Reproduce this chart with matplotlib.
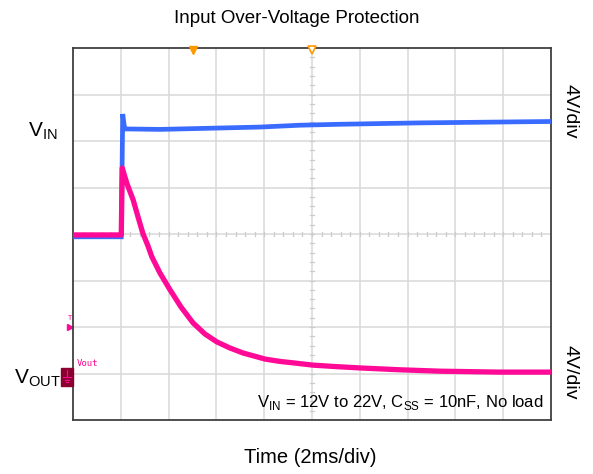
"""Oscilloscope capture: input over-voltage protection (VIN and VOUT)."""
import matplotlib.pyplot as plt
from matplotlib.patches import Rectangle

plt.rcParams["font.family"] = ["Liberation Sans", "DejaVu Sans"]

# traces, in divisions (x: 2ms/div, y: 4V/div)
vin_x = [0.0, 1.01, 1.04, 1.07, 1.09, 1.82, 3.08, 3.91, 4.75, 5.58, 7.26,
         10.0]
vin_y = [3.94, 3.94, 6.58, 6.34, 6.26, 6.25, 6.28, 6.30, 6.34, 6.36, 6.39,
         6.42]

vout_x = [0.0, 1.01, 1.03, 1.13, 1.26, 1.36, 1.46, 1.57, 1.65, 1.82, 2.03,
          2.26, 2.51, 2.76, 3.01, 3.28, 3.56, 3.81, 4.02, 4.33, 4.60, 5.02,
          5.48, 6.00, 6.84, 7.68, 8.93, 10.0]
vout_y = [3.98, 3.98, 5.42, 5.08, 4.73, 4.37, 4.02, 3.74, 3.51, 3.16, 2.80,
          2.43, 2.09, 1.85, 1.68, 1.55, 1.44, 1.37, 1.31, 1.26, 1.23, 1.18,
          1.15, 1.12, 1.08, 1.05, 1.03, 1.03]

n_xdiv = 10
n_ydiv = 8
trigger_x = [2.52, 5.0]

blue = "#3a6bff"
pink = "#ff0a96"

fig = plt.figure(figsize=(5.93, 4.74), dpi=100)
ax = fig.add_axes([0.1231, 0.1139, 0.806, 0.7848])
ax.set_xlim(0, n_xdiv)
ax.set_ylim(0, n_ydiv)

# graticule
for i in range(1, n_xdiv):
    ax.axvline(i, color="#d9d9d9", lw=1.1, zorder=0)
for j in range(1, n_ydiv):
    ax.axhline(j, color="#d9d9d9", lw=1.1, zorder=0)
for k in range(1, n_xdiv * 5):
    ax.plot([k / 5, k / 5], [n_ydiv / 2 - 0.05, n_ydiv / 2 + 0.05],
            color="#cccccc", lw=0.9, zorder=0)
for k in range(1, n_ydiv * 5):
    ax.plot([n_xdiv / 2 - 0.05, n_xdiv / 2 + 0.05], [k / 5, k / 5],
            color="#cccccc", lw=0.9, zorder=0)

ax.plot(vin_x, vin_y, color=blue, lw=3.4, solid_joinstyle="miter", zorder=3)
ax.plot(vout_x, vout_y, color=pink, lw=3.8, zorder=4)

ax.set_xticks([])
ax.set_yticks([])
for s in ax.spines.values():
    s.set_color("#404040")
    s.set_linewidth(1.3)

# trigger markers at top
ax.plot(trigger_x[0], n_ydiv - 0.05, marker="v", ms=6, color="#ff9900",
        clip_on=False, zorder=5)
ax.plot(trigger_x[1], n_ydiv - 0.05, marker="v", ms=6, mfc="white",
        mec="#ff9900", mew=1.2, clip_on=False, zorder=5)

# channel markers on the left edge
ax.text(-0.06, 2.2, "T", color=pink, fontsize=5, ha="center", va="center",
        family="DejaVu Sans Mono", clip_on=False)
ax.plot(-0.06, 2.0, marker=">", ms=4, color=pink, clip_on=False)
ax.add_patch(Rectangle((-0.25, 0.74), 0.25, 0.38, color="#8b0030",
                       clip_on=False, zorder=5))
# ground symbol inside the marker
gnd = dict(color=pink, lw=0.8, clip_on=False, zorder=6)
ax.plot([-0.125, -0.125], [1.07, 0.93], **gnd)
ax.plot([-0.2, -0.05], [0.93, 0.93], **gnd)
ax.plot([-0.17, -0.08], [0.87, 0.87], **gnd)
ax.plot([-0.14, -0.11], [0.81, 0.81], **gnd)
ax.text(0.08, 1.22, "Vout", color=pink, fontsize=6.5,
        family="DejaVu Sans Mono", va="center")

ax.text(9.85, 0.38,
        r"V$_{\mathregular{IN}}$ = 12V to 22V, C$_{\mathregular{SS}}$"
        r" = 10nF, No load",
        fontsize=12, ha="right", va="center")

fig.text(0.5, 0.962, "Input Over-Voltage Protection", fontsize=13.5,
         ha="center", va="center")
fig.text(0.523, 0.034, "Time (2ms/div)", fontsize=14.5, ha="center",
         va="center")
fig.text(0.072, 0.723, r"V$_{\mathregular{IN}}$", fontsize=15,
         ha="center", va="center")
fig.text(0.063, 0.203, r"V$_{\mathregular{OUT}}$", fontsize=15,
         ha="center", va="center")
fig.text(0.962, 0.765, "4V/div", fontsize=14, rotation=-90,
         ha="center", va="center")
fig.text(0.962, 0.215, "4V/div", fontsize=14, rotation=-90,
         ha="center", va="center")

fig.savefig("out.png", dpi=100, facecolor="white")
